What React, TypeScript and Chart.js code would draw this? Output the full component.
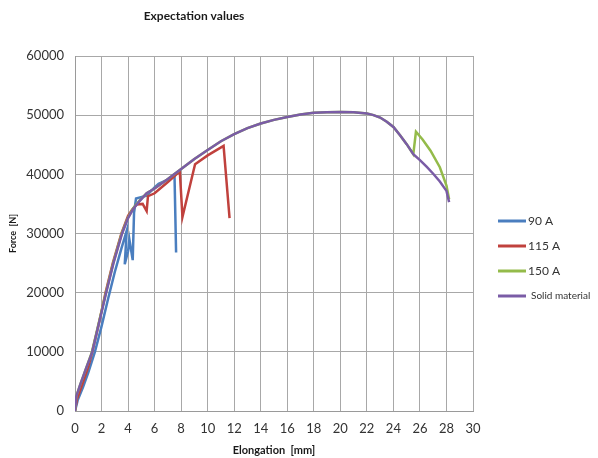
import React, { useEffect, useRef } from "react";
import { Chart, registerables } from "chart.js";

Chart.register(...registerables);

const chartTitle = "Expectation values";
const xTitle = "Elongation  [mm]";
const yTitle = "Force  [N]";
const seriesNames = ["90 A", "115 A", "150 A", "Solid material"];
const seriesColors = ["#4a7ebf", "#c0413d", "#94bb4a", "#7a5ca6"];

const blueX = [0, 0.2, 0.6, 1.0, 1.5, 2.0, 2.5, 3.0, 3.5, 3.9, 3.75, 4.0, 4.1, 4.35, 4.45, 4.6, 5.4, 6.0, 6.3, 7.0, 7.5, 7.62];
const blueY = [0, 1800, 4000, 6500, 10000, 14300, 19000, 23500, 27500, 30500, 24800, 27000, 29000, 25500, 33500, 35900, 36400, 37800, 38400, 39100, 39900, 26800];

const redX = [0, 0.15, 0.5, 1.0, 1.3, 1.8, 2.3, 2.85, 3.5, 4.0, 4.3, 4.65, 5.1, 5.4, 5.5, 6.0, 7.0, 7.9, 8.1, 9.05, 10, 11.2, 11.65];
const redY = [0, 2000, 4200, 7500, 10000, 14800, 20000, 25000, 30000, 33000, 34000, 34900, 35000, 33800, 36300, 36800, 38700, 40500, 32800, 41700, 43200, 44800, 32600];

const greenX = [0, 0.1, 0.4, 0.8, 1.28, 1.78, 2.33, 2.88, 3.52, 4.0, 4.4, 4.8, 5.4, 6, 7, 8, 9, 10, 11, 12, 13, 14, 15, 16, 17, 18, 19, 20, 21, 22, 22.5, 23, 23.5, 24, 24.5, 25, 25.5, 25.7, 26.2, 26.8, 27.5, 28.0, 28.2];
const greenY = [0, 2500, 4500, 7000, 10000, 14800, 20000, 25000, 30000, 32700, 34300, 35400, 36800, 37600, 39200, 40900, 42600, 44100, 45600, 46800, 47800, 48600, 49200, 49700, 50100, 50400, 50500, 50550, 50500, 50300, 50000, 49600, 48900, 48000, 46600, 45100, 43400, 47200, 45900, 44000, 41200, 38100, 35800];

const solidX = [0, 0.1, 0.4, 0.8, 1.3, 1.8, 2.35, 2.9, 3.55, 4.0, 4.4, 4.8, 5.4, 6, 7, 8, 9, 10, 11, 12, 13, 14, 15, 16, 17, 18, 19, 20, 21, 22, 22.5, 23, 23.5, 24, 24.5, 25, 25.5, 26, 26.5, 27, 27.5, 28, 28.2];
const solidY = [0, 2500, 4500, 7000, 10000, 14800, 20000, 25000, 30000, 32600, 34200, 35300, 36800, 37600, 39200, 40900, 42600, 44100, 45600, 46800, 47800, 48600, 49200, 49700, 50100, 50400, 50500, 50550, 50500, 50300, 50000, 49600, 48900, 48000, 46600, 45100, 43400, 42400, 41300, 40100, 38800, 37200, 35300];

const seriesX = [blueX, redX, greenX, solidX];
const seriesY = [blueY, redY, greenY, solidY];

const FONT = "Lato, 'Open Sans', sans-serif";

const overlayPlugin = {
  id: "overlay",
  afterDraw(chart: any) {
    const ctx = chart.ctx;
    ctx.save();
    ctx.fillStyle = "#1a1a1a";
    ctx.font = `bold 12px ${FONT}`;
    ctx.textAlign = "center";
    ctx.textBaseline = "middle";
    ctx.fillText(chartTitle, 194, 16);
    chart.data.datasets.forEach((ds: any, i: number) => {
      const y = 221 + 25 * i;
      ctx.strokeStyle = ds.borderColor;
      ctx.lineWidth = 3;
      ctx.beginPath();
      ctx.moveTo(498, y);
      ctx.lineTo(526, y);
      ctx.stroke();
      ctx.fillStyle = "#333333";
      ctx.textAlign = "left";
      const last = i === chart.data.datasets.length - 1;
      ctx.font = last ? `10px 'Liberation Sans Narrow', ${FONT}` : `12px ${FONT}`;
      ctx.fillText(ds.label, last ? 531 : 528, y);
    });
    ctx.restore();
  },
};

export default function App() {
  const ref = useRef<HTMLCanvasElement>(null);
  useEffect(() => {
    if (!ref.current) return;
    const orders = [3, 2, 1, 0];
    const datasets = seriesNames.map((name, i) => ({
      label: name,
      data: seriesX[i].map((x, j) => ({ x, y: seriesY[i][j] })),
      borderColor: seriesColors[i],
      backgroundColor: seriesColors[i],
      borderWidth: 2.5,
      showLine: true,
      pointRadius: 0,
      tension: 0,
      order: orders[i],
    }));
    const chart = new Chart(ref.current, {
      type: "scatter",
      data: { datasets },
      plugins: [overlayPlugin],
      options: {
        animation: false,
        responsive: false,
        devicePixelRatio: 1,
        layout: { padding: { left: 8, top: 56, right: 125, bottom: 0 } },
        plugins: {
          legend: { display: false },
          title: { display: false },
          tooltip: { enabled: false },
        },
        scales: {
          x: {
            type: "linear",
            min: 0,
            max: 30,
            afterFit: (s: any) => {
              s.height = 47;
            },
            ticks: {
              stepSize: 2,
              padding: 10,
              color: "#333333",
              font: { family: FONT, size: 13 },
              callback: (v: any) => String(v),
            },
            grid: { color: "#a8a8a8", lineWidth: 1, drawTicks: false },
            border: { color: "#9a9a9a" },
            title: {
              display: true,
              text: xTitle,
              color: "#1a1a1a",
              font: { family: FONT, size: 11, weight: "bold" },
              padding: { top: 0, bottom: 1 },
            },
          },
          y: {
            type: "linear",
            min: 0,
            max: 60000,
            afterFit: (s: any) => {
              s.width = 67;
            },
            ticks: {
              stepSize: 10000,
              padding: 11,
              color: "#333333",
              font: { family: FONT, size: 13 },
              callback: (v: any) => String(v),
            },
            grid: { color: "#a8a8a8", lineWidth: 1, drawTicks: false },
            border: { color: "#9a9a9a" },
            title: {
              display: true,
              text: yTitle,
              color: "#1a1a1a",
              font: { family: FONT, size: 9, weight: "bold" },
              padding: { top: 0, bottom: 0 },
            },
          },
        },
      },
    });
    return () => chart.destroy();
  }, []);
  return (
    <div style={{ position: "fixed", left: 0, top: 0, width: 598, height: 458, background: "#ffffff" }}>
      <canvas ref={ref} width={598} height={458} style={{ width: 598, height: 458 }} />
    </div>
  );
}
